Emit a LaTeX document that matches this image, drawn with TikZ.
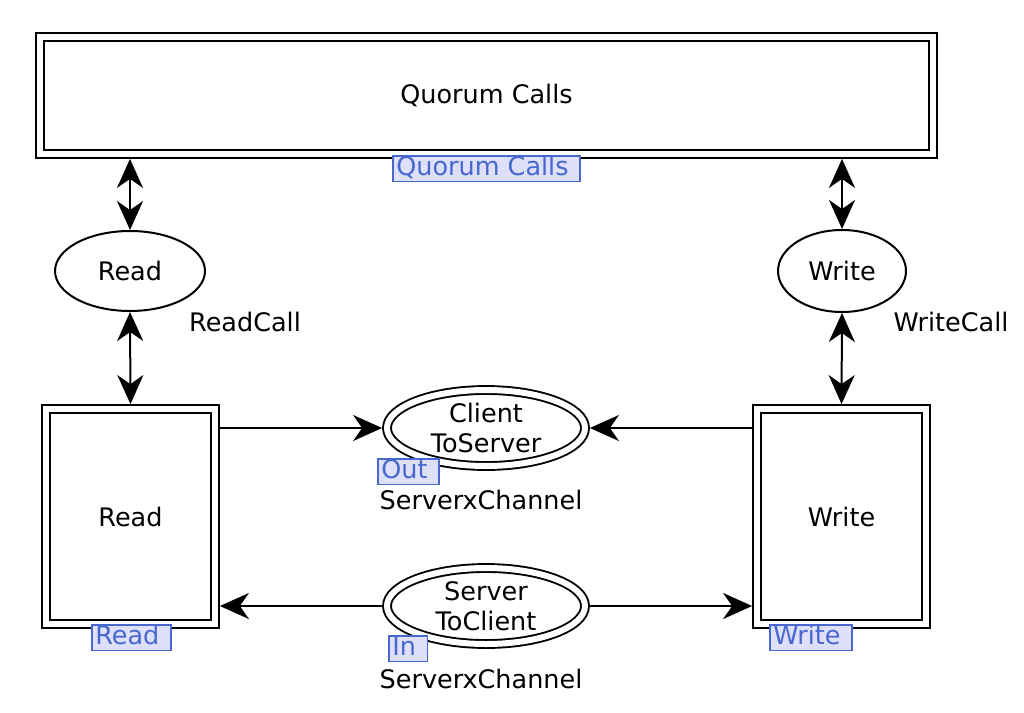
\documentclass[tikz,border=0pt]{standalone}
\usepackage{fontspec}
\setmainfont{DejaVu Sans}
\usetikzlibrary{arrows.meta,shapes.geometric,positioning}
\definecolor{tagfill}{RGB}{222,224,250}
\definecolor{tagblue}{RGB}{72,104,208}

\begin{document}
\begin{tikzpicture}[
x=1pt, y=-1pt,
every node/.style={font=\fontsize{25.5}{30}\selectfont, inner sep=0},
dblline/.style={draw=black, line width=1.9pt, double=white, double distance=6pt, outer sep=4.9pt},
trans/.style={dblline, rectangle},
place/.style={ellipse, draw=black, line width=2pt},
fused/.style={ellipse, dblline},
tagbox/.style={anchor=north west, draw=tagblue, fill=tagfill, text=tagblue, line width=1.6pt,
  inner xsep=3.5pt, inner ysep=1pt, text height=18.5pt, text depth=5pt},
lbl/.style={},
arc/.style={line width=2pt, -{Stealth[length=29pt, width=26pt, inset=9pt]}},
dblarc/.style={line width=2pt, {Stealth[length=29pt, width=26pt, inset=9pt]}-{Stealth[length=29pt, width=26pt, inset=9pt]}}
]
\useasboundingbox (0,0) rectangle (1024,712);

% transitions
\node [trans, minimum width=893.5pt, minimum height=117pt] (qc) at (486.5,95.5) {Quorum Calls};
\node [trans, minimum width=169pt, minimum height=215pt] (rt) at (130.5,516.5) {Read};
\node [trans, minimum width=169pt, minimum height=215pt] (wt) at (841.5,516.5) {Write};

% places
\node [place, minimum width=150pt, minimum height=80pt] (rd) at (130,271) {Read};
\node [place, minimum width=128pt, minimum height=82pt] (wr) at (842,271) {Write};
\node [fused, minimum width=198pt, minimum height=76pt, align=center] (cs) at (486,428) {Client\\ToServer};
\node [fused, minimum width=198pt, minimum height=76pt, align=center] (sc) at (486,606) {Server\\ToClient};

% tags
\node [tagbox] (qctag) at (392,155) {Quorum Calls\hspace*{8pt}};
\node [tagbox] (rttag) at (91,624) {Read\hspace*{8pt}};
\node [tagbox] (wttag) at (769,624) {Write\hspace*{8pt}};
\node [tagbox] (cstag) at (377,458) {Out\hspace*{8pt}};
\node [tagbox] (sctag) at (388,635) {In\hspace*{8pt}};

% inscriptions
\node [lbl] (rdcall) at (245,322) {ReadCall};
\node [lbl] (wrcall) at (951,322) {WriteCall};
\node [lbl] (cscol) at (481,500) {ServerxChannel};
\node [lbl] (sccol) at (481,679) {ServerxChannel};

% arcs
\draw [dblarc] (qc.south -| rd) -- (rd.north);
\draw [dblarc] (rd.south) -- (rt.north);
\draw [dblarc] (qc.south -| wr) -- (wr.north);
\draw [dblarc] (wr.south) -- (wt.north);
\draw [arc] (rt.east |- cs) -- (cs.west);
\draw [arc] (wt.west |- cs) -- (cs.east);
\draw [arc] (sc.west) -- (rt.east |- sc);
\draw [arc] (sc.east) -- (wt.west |- sc);
\end{tikzpicture}
\end{document}
